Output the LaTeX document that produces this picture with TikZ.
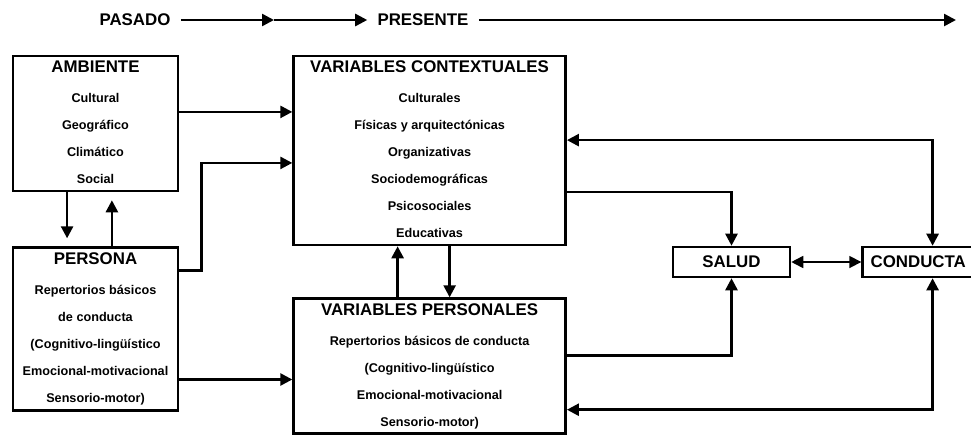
\documentclass[tikz,border=0pt]{standalone}
\usepackage{fontspec}
\setmainfont{Liberation Sans}
\usepackage{tikz}
\usetikzlibrary{arrows.meta}
\usetikzlibrary{positioning}

\tikzset{
  caja/.style={draw, line width=1.8pt, inner sep=0pt},
  titulo/.style={font=\fontsize{12}{14}\selectfont\bfseries, inner sep=0pt},
  cuerpo/.style={font=\fontsize{9}{19.2}\selectfont\bfseries, align=center, inner sep=0pt},
  flecha/.style={line width=1.8pt, -{Triangle[length=3mm,width=3mm]}},
  dflecha/.style={line width=1.8pt, {Triangle[length=3mm,width=3mm]}-{Triangle[length=3mm,width=3mm]}}
}

\begin{document}
\begin{tikzpicture}[x=0.025cm, y=-0.025cm]
			\fill[white] (0,0) rectangle (971,436);
			\useasboundingbox (0,0) rectangle (971,436);
			\clip (0,0) rectangle (971,436);
			% linea del tiempo
			\node[titulo, inner sep=2.5mm] (pasado) at (135,20) {PASADO};
			\coordinate (mitad) at (274,20);
			\node[titulo, inner sep=2.5mm] (presente) at (423,20) {PRESENTE};
			\coordinate (futuro) at (956,20);
			\draw[flecha] (pasado) -- (mitad);
			\draw[flecha] (mitad) -- (presente);
			\draw[flecha] (presente) -- (futuro);
			% cajas
			\node[caja, minimum width=4.125cm, minimum height=3.375cm] (amb) at (95.5,123.5) {};
			\node[caja, minimum width=4.125cm, minimum height=4.075cm, below=1.35cm of amb] (per) {};
			\node[caja, minimum width=6.8cm, minimum height=4.725cm, right=2.825cm of amb.north east, anchor=north west] (vc) {};
			\node[caja, minimum width=6.8cm, minimum height=3.375cm, below=1.275cm of vc] (vp) {};
			\node[caja, titulo, minimum width=2.925cm, minimum height=0.75cm] (sal) at (731.5,262) {SALUD};
			\node[caja, titulo, minimum width=3.5cm, minimum height=0.75cm, text width=3.1cm, align=left, right=1.75cm of sal] (con) {CONDUCTA};
			% textos
			\node[titulo] (amb-tit) at ([yshift=-3mm]amb.north) {AMBIENTE};
			\node[cuerpo, below=5mm of amb-tit] (amb-txt) {Cultural\\Geográfico\\Climático\\Social};
			\node[titulo] (per-tit) at ([yshift=-3mm]per.north) {PERSONA};
			\node[cuerpo, below=5mm of per-tit] (per-txt) {Repertorios básicos\\de conducta\\(Cognitivo-lingüístico\\Emocional-motivacional\\Sensorio-motor)};
			\node[titulo] (vc-tit) at ([yshift=-3mm]vc.north) {VARIABLES CONTEXTUALES};
			\node[cuerpo, below=5mm of vc-tit] (vc-txt) {Culturales\\Físicas y arquitectónicas\\Organizativas\\Sociodemográficas\\Psicosociales\\Educativas};
			\node[titulo] (vp-tit) at ([yshift=-3mm]vp.north) {VARIABLES PERSONALES};
			\node[cuerpo, below=5mm of vp-tit] (vp-txt) {Repertorios básicos de conducta\\(Cognitivo-lingüístico\\Emocional-motivacional\\Sensorio-motor)};
			% ambiente y persona
			\draw[flecha, shorten >=2mm] ([xshift=-7.1mm]amb.south) -- ([xshift=-7.1mm]per.north);
			\draw[flecha, shorten >=2mm] ([xshift=4.1mm]per.north) -- ([xshift=4.1mm]amb.south);
			% hacia las variables
			\coordinate (amb-s) at ([yshift=2.9mm]amb.east);
			\draw[flecha] (amb-s) -- (amb-s -| vc.west);
			\draw[flecha] ([yshift=14.6mm]per.east) -- ++(22,0) |- ([yshift=-3.1mm]vc.west);
			\coordinate (per-s) at ([yshift=-12.6mm]per.east);
			\draw[flecha] (per-s) -- (per-s -| vp.west);
			\coordinate (vc-a) at ([xshift=-8mm]vc.south);
			\coordinate (vc-b) at ([xshift=5mm]vc.south);
			\draw[flecha] (vc-a |- vp.north) -- (vc-a);
			\draw[flecha] (vc-b) -- (vc-b |- vp.north);
			% salud y conducta
			\draw[flecha] ([yshift=-10.4mm]vc.east) -| (sal.north);
			\draw[flecha] ([yshift=2.6mm]vp.east) -| (sal.south);
			\draw[dflecha] ([yshift=2.6mm]vc.east) -| (con.north);
			\draw[dflecha] ([yshift=-10.9mm]vp.east) -| (con.south);
			\draw[dflecha, line width=1.2pt] (sal) -- (con);
		\end{tikzpicture}
\end{document}
